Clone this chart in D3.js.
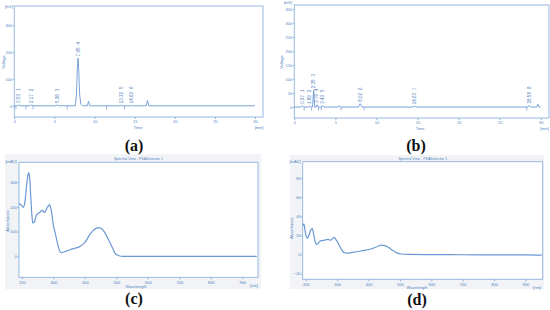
<!DOCTYPE html>
<html>
<head>
<meta charset="utf-8">
<script src="https://cdn.jsdelivr.net/npm/d3@7"></script>
<style>
  body { margin: 0; background: #fff; }
  svg text { font-family: "Liberation Sans", Arial, sans-serif; }
</style>
</head>
<body>
<svg id="fig" width="550" height="310"></svg>
<script>
// ---- (a) chromatogram ----
const timeTicks = [0, 5, 10, 15, 20, 25, 30];
const aVoltTicks = [0, 100, 200, 300];
const aTime = [0, 0.2, 0.4, 0.53, 0.7, 2.0, 2.17, 2.35, 5.2, 5.38, 5.55, 7.6, 7.75, 7.85, 7.95, 8.05, 8.15, 8.3, 8.5, 9.1, 9.25, 9.4, 13.2, 13.32, 13.45, 14.5, 14.62, 14.75, 16.45, 16.6, 16.75, 30];
const aVolt = [0, 0, 0, 4, 0, 0, 3, 0, 0, 3, 0, 0, 40, 135, 178, 118, 40, 6, 0, 0, 17, 0, 0, 2, 0, 0, 2, 0, 0, 20, 0, 0];
const aPeakRT = ["0.53", "2.17", "5.38", "7.95", "13.32", "14.62"];
const aPeakNo = [1, 2, 3, 4, 5, 6];
const aPeakH = [4, 3, 3, 178, 2, 2];
const aMarks = [0.2, 1.45, 2.35, 6.6, 11.5, 13.75];

// ---- (b) chromatogram ----
const bVoltTicks = [0, 50, 100, 150, 200, 250, 300, 350];
const bTime = [0, 0.8, 0.97, 1.15, 1.75, 1.89, 2.05, 2.22, 2.35, 2.48, 2.65, 2.76, 2.9, 3.3, 3.43, 3.6, 5.3, 5.45, 5.6, 7.8, 8.02, 8.25, 14.4, 14.63, 14.9, 28.4, 28.58, 28.8, 29.5, 29.65, 29.8, 30];
const bVolt = [0, 0, 5, 0, 0, 4, 0, 0, 60, 0, 0, 8, 0, 0, 5, 0, 0, 5, 0, 0, 12, 0, 0, 3, 0, 0, 6, 0, 0, 10, 0, 0];
const bPeakRT = ["0.97", "1.89", "2.35", "2.76", "3.43", "8.02", "14.63", "28.58"];
const bPeakNo = [1, 2, 3, 4, 5, 6, 7, 8];
const bPeakH = [5, 4, 60, 8, 5, 12, 3, 6];
const bMarks = [1.2, 2.1, 2.95, 3.3, 5.7, 8.5, 28.3];

// ---- (c) spectrum ----
const nmTicks = [200, 300, 400, 500, 600, 700, 800, 900];
const cAbsTicks = [0, 100, 200, 300];
const cNm = [191, 195, 200, 205, 210, 215, 220, 222, 225, 228, 232, 235, 240, 245, 250, 258, 264, 268, 271, 275, 280, 285, 288, 292, 296, 300, 305, 312, 318, 322, 327, 340, 360, 385, 400, 417, 430, 441, 450, 460, 470, 480, 490, 496, 505, 512, 520, 946];
const cAbs = [213, 210, 205, 198, 222, 285, 332, 338, 315, 250, 165, 134, 140, 162, 172, 178, 186, 183, 176, 182, 195, 205, 209, 195, 165, 125, 100, 60, 30, 18, 15, 20, 30, 40, 55, 90, 108, 116, 114, 103, 80, 55, 28, 12, 4, 1, 0, 0];

// ---- (d) spectrum ----
const dAbsTicks = [-20, 0, 20, 40, 60, 80];
const dNm = [191, 194, 197, 201, 205, 210, 216, 221, 225, 230, 234, 240, 246, 252, 260, 266, 272, 276, 281, 286, 290, 294, 299, 304, 309, 315, 322, 330, 350, 378, 410, 428, 440, 452, 460, 468, 476, 484, 492, 500, 527, 600, 700, 800, 900, 952];
const dAbs = [30, 32, 26, 19, 17, 20, 26, 27, 21, 13, 10.5, 12, 14, 14.5, 15, 15.5, 15.7, 15, 15.2, 17, 17.8, 16.5, 14, 11, 8, 4.5, 1.8, 1.4, 2.2, 3.8, 5.9, 8.3, 9.8, 9.2, 8.1, 6.3, 4.5, 2.8, 1.4, 0.7, 0, -0.2, -0.3, -0.4, -0.5, -0.8];

const frameCol = '#8db2df';
const lineCol = '#6b98d4';
const textCol = '#4f7fbf';

const svg = d3.select('#fig');

function axes(g, x, y, xt, yt) {
  g.append('g')
      .attr('transform', `translate(0,${y.range()[0]})`)
      .call(d3.axisBottom(x).tickValues(xt).tickSize(2).tickPadding(1.5))
      .call(s => {
        s.attr('font-size', 4);
        s.select('.domain').remove();
        s.selectAll('line').attr('stroke', frameCol);
        s.selectAll('text').attr('fill', textCol);
      });
  g.append('g')
      .attr('transform', `translate(${x.range()[0]},0)`)
      .call(d3.axisLeft(y).tickValues(yt).tickSize(1.5).tickPadding(0.6))
      .call(s => {
        s.attr('font-size', 4);
        s.select('.domain').remove();
        s.selectAll('line').attr('stroke', frameCol);
        s.selectAll('text').attr('fill', textCol);
      });
  g.append('rect')
      .attr('x', x.range()[0]).attr('y', y.range()[1])
      .attr('width', x.range()[1] - x.range()[0])
      .attr('height', y.range()[0] - y.range()[1])
      .attr('fill', 'none').attr('stroke', frameCol).attr('stroke-width', 0.9);
}

function label(g, txt, x, y, rot, anchor) {
  g.append('text')
      .attr('transform', `translate(${x},${y})` + (rot ? ' rotate(-90)' : ''))
      .attr('text-anchor', anchor || 'middle')
      .attr('font-size', 4)
      .attr('fill', textCol)
      .text(txt);
}

function chrom(x, y, t, v, rt, no, h, marks, yt, pos) {
  const g = svg.append('g');
  axes(g, x, y, timeTicks, yt);

  const line = d3.line().x((d, i) => x(t[i])).y(d => y(d));
  g.append('path')
      .attr('d', line(v))
      .attr('fill', 'none').attr('stroke', lineCol).attr('stroke-width', 0.9);

  g.selectAll('.mark')
      .data(marks)
      .enter()
      .append('line')
      .attr('x1', d => x(d)).attr('x2', d => x(d))
      .attr('y1', y(0)).attr('y2', y(0) + 3.5)
      .attr('stroke', lineCol).attr('stroke-width', 0.7);

  const lab = g.selectAll('.pk')
      .data(rt)
      .enter()
      .append('text')
      .attr('transform', (d, i) => `translate(${x(+d) + 1.5},${Math.min(y(h[i]), y(0)) - 2}) rotate(-90)`)
      .attr('font-size', 4.5)
      .attr('fill', textCol);
  lab.append('tspan').text(d => d);
  lab.append('tspan').attr('dx', 3).text((d, i) => no[i]);

  label(g, pos.unit, pos.ux, pos.uy, false, 'middle');
  label(g, 'Voltage', pos.vx, pos.vy, true);
  label(g, 'Time', pos.tx, pos.ty);
  label(g, '[min]', pos.mx, pos.my);
}

function spectrum(x, y, nm, ab, yt, pos) {
  const g = svg.append('g');
  g.append('rect')
      .attr('x', pos.bx).attr('y', pos.by).attr('width', pos.bw).attr('height', pos.bh)
      .attr('fill', '#f1f3f6');
  g.append('rect')
      .attr('x', x.range()[0]).attr('y', y.range()[1])
      .attr('width', x.range()[1] - x.range()[0])
      .attr('height', y.range()[0] - y.range()[1])
      .attr('fill', '#fff');
  axes(g, x, y, nmTicks, yt);

  const line = d3.line().x((d, i) => x(nm[i])).y(d => y(d)).curve(d3.curveMonotoneX);
  g.append('path')
      .attr('d', line(ab))
      .attr('fill', 'none').attr('stroke', lineCol).attr('stroke-width', 1.2);

  g.append('text')
      .attr('x', (x.range()[0] + x.range()[1]) / 2).attr('y', y.range()[1] - 2)
      .attr('text-anchor', 'middle').attr('font-size', 3.6).attr('fill', textCol)
      .text('Spectral View - PDADetector 1');
  label(g, '[mAU]', pos.ux, pos.uy);
  label(g, 'Absorbance', pos.ax, pos.ay, true);
  label(g, 'Wavelength', pos.wx, pos.wy);
  label(g, '[nm]', pos.nx, pos.ny);
}

chrom(d3.scaleLinear().domain([0, 31]).range([14.3, 263]),
      d3.scaleLinear().domain([-42, 373]).range([117, 6]),
      aTime, aVolt, aPeakRT, aPeakNo, aPeakH, aMarks, aVoltTicks,
      {unit: '[mV]', ux: 9, uy: 7.5, vx: 4.5, vy: 62, tx: 138, ty: 129, mx: 259, my: 129});

chrom(d3.scaleLinear().domain([0, 31]).range([294.3, 549]),
      d3.scaleLinear().domain([-39, 364]).range([118, 5]),
      bTime, bVolt, bPeakRT, bPeakNo, bPeakH, bMarks, bVoltTicks,
      {unit: '[mV]', ux: 288, uy: 4, vx: 283, vy: 62, tx: 420, ty: 130, mx: 544.5, my: 129.5});

spectrum(d3.scaleLinear().domain([191, 950]).range([19, 258]),
         d3.scaleLinear().domain([-85, 380]).range([277.3, 162.3]),
         cNm, cAbs, cAbsTicks,
         {bx: 5, by: 154, bw: 256, bh: 135, ux: 11, uy: 163, ax: 8.5, ay: 221, wx: 136, wy: 288, nx: 254, ny: 287});

spectrum(d3.scaleLinear().domain([190, 955]).range([302.7, 542.7]),
         d3.scaleLinear().domain([-26, 97]).range([279.3, 161.7]),
         dNm, dAbs, dAbsTicks,
         {bx: 290, by: 155, bw: 254, bh: 134, ux: 295, uy: 163, ax: 293, ay: 228, wx: 417, wy: 288.6, nx: 537, ny: 288.5});

// panel captions
const capText = ['(a)', '(b)', '(c)', '(d)'];
const capX = [134, 416, 134, 417];
const capY = [151, 151, 304, 305];
svg.selectAll('.cap')
    .data(capText)
    .enter()
    .append('text')
    .attr('x', (d, i) => capX[i]).attr('y', (d, i) => capY[i])
    .attr('text-anchor', 'middle')
    .style('font-family', '"Liberation Serif", "Times New Roman", serif')
    .attr('font-weight', 'bold')
    .attr('font-size', 16)
    .attr('fill', '#111')
    .text(d => d);
</script>
</body>
</html>
